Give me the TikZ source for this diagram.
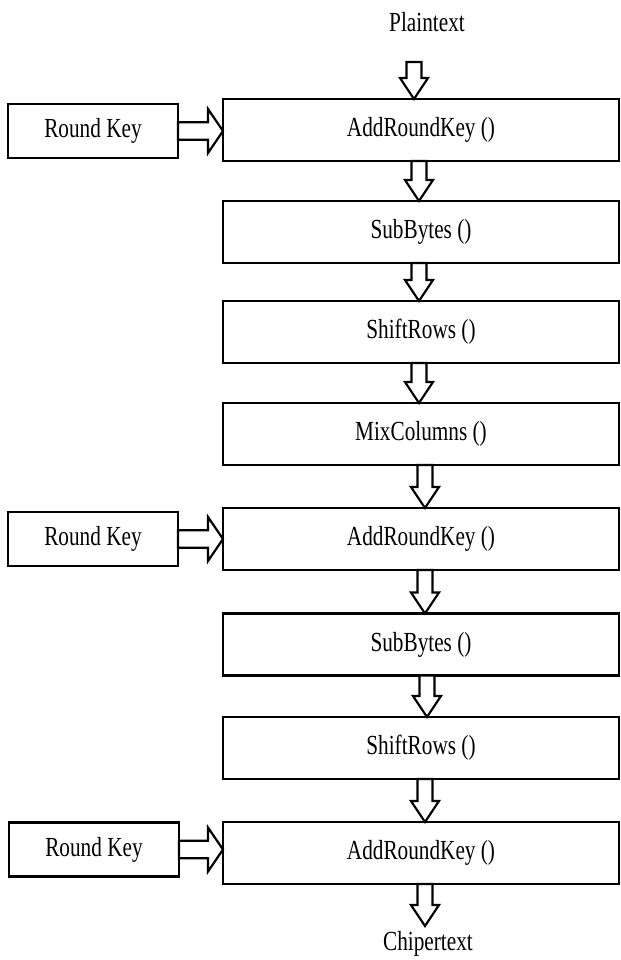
\documentclass[tikz,border=0pt]{standalone}
\usepackage{fontspec}
\setmainfont{Liberation Serif}[FakeStretch=0.77]
\usetikzlibrary{calc,positioning}

\begin{document}
\begin{tikzpicture}[x=0.5pt,y=-0.5pt]
    \tikzset{every node/.style = {font=\fontsize{13.8pt}{16pt}\selectfont},
      StepStyle/.style = {draw,
        rectangle,
        line width   = 1.2pt,
        outer sep    = 0pt,
        minimum width  = 198pt,
        minimum height = 31pt},
      KeyStyle/.style = {StepStyle,
        minimum width  = 85pt,
        minimum height = 27pt},
      ArrowStyle/.style = {draw, fill=white, line width=1.1pt, line join=miter}}
    \useasboundingbox (0,0) rectangle (621,960);
    \node (PT) at (427,22) {Plaintext};
    \coordinate (pin) at (421,62);
    \node[StepStyle] (ARKa) at (421,130) {AddRoundKey ()};
    \node[StepStyle] (SBa)  at (421,232) {SubBytes ()};
    \node[StepStyle] (SRa)  at (421,332) {ShiftRows ()};
    \node[StepStyle] (MC)   at (421,434) {MixColumns ()};
    \node[StepStyle] (ARKb) at (421,539) {AddRoundKey ()};
    \node[StepStyle] (SBb)  at (421,644.5) {SubBytes ()};
    \node[StepStyle] (SRb)  at (421,748) {ShiftRows ()};
    \node[StepStyle] (ARKc) at (421,853) {AddRoundKey ()};
    \coordinate (pout) at (421,926);
    \node (CT) at (428,944) {Chipertext};
    \node[KeyStyle] (RKa) at (93,131) {Round Key};
    \node[KeyStyle] (RKb) at (93,539) {Round Key};
    \node[KeyStyle] (RKc) at (94,849.5) {Round Key};
    % hollow arrows down the rounds
    \foreach \a/\b/\dx in {pin/ARKa.north/-7, ARKa.south/SBa.north/-2,
        SBa.south/SRa.north/-2, SRa.south/MC.north/-2, MC.south/ARKb.north/4,
        ARKb.south/SBb.north/4, SBb.south/SRb.north/6, SRb.south/ARKc.north/4,
        ARKc.south/pout/4}
      \draw[ArrowStyle] let \p1 = ($(\a)+(\dx,0)$), \p2 = ($(\b)+(\dx,0)$) in
        (\x1-3.75pt,\y1) -- (\x1-3.75pt,\y2+10.5pt) -- (\x1-7pt,\y2+10.5pt)
        -- (\x2,\y2) -- (\x1+7pt,\y2+10.5pt) -- (\x1+3.75pt,\y2+10.5pt)
        -- (\x1+3.75pt,\y1) -- cycle;
    % round keys
    \foreach \a/\b in {RKa/ARKa, RKb/ARKb, RKc/ARKc}
      \draw[ArrowStyle] let \p1 = (\a.east), \p2 = (\b.west |- \a.east) in
        (\x1,\y1-4.4pt) -- (\x2-7.5pt,\y1-4.4pt) -- (\x2-7.5pt,\y1-11pt)
        -- (\x2,\y2) -- (\x2-7.5pt,\y1+11pt) -- (\x2-7.5pt,\y1+4.4pt)
        -- (\x1,\y1+4.4pt) -- cycle;
  \end{tikzpicture}
\end{document}
